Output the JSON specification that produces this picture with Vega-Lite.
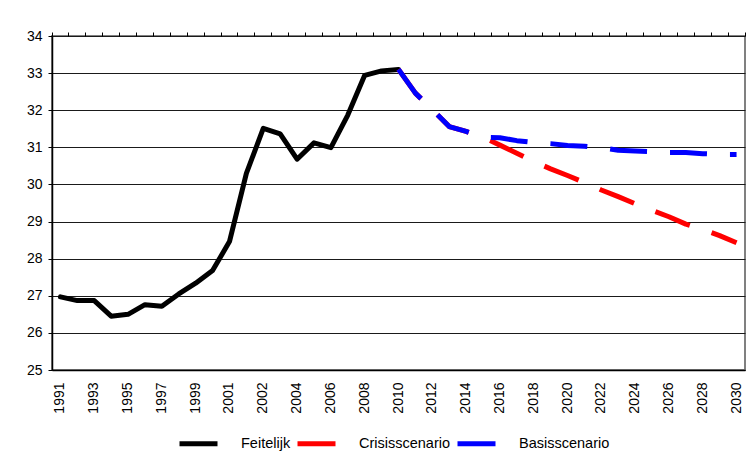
{
  "$schema": "https://vega.github.io/schema/vega-lite/v6.json",
  "width": 693,
  "height": 334,
  "autosize": {"type": "none"},
  "padding": {"left": 52, "top": 36, "right": 7, "bottom": 89},
  "background": "white",
  "config": {
    "font": "Liberation Sans",
    "view": {"stroke": "#808080", "strokeWidth": 2}
  },
  "data": {
    "values": [
      {"jaar": "1991", "serie": "Feitelijk", "waarde": 26.97},
      {"jaar": "1992", "serie": "Feitelijk", "waarde": 26.87},
      {"jaar": "1993", "serie": "Feitelijk", "waarde": 26.87},
      {"jaar": "1994", "serie": "Feitelijk", "waarde": 26.45},
      {"jaar": "1995", "serie": "Feitelijk", "waarde": 26.5},
      {"jaar": "1996", "serie": "Feitelijk", "waarde": 26.76},
      {"jaar": "1997", "serie": "Feitelijk", "waarde": 26.72},
      {"jaar": "1998", "serie": "Feitelijk", "waarde": 27.05},
      {"jaar": "1999", "serie": "Feitelijk", "waarde": 27.34},
      {"jaar": "2000", "serie": "Feitelijk", "waarde": 27.68},
      {"jaar": "2001", "serie": "Feitelijk", "waarde": 28.46},
      {"jaar": "2001*", "serie": "Feitelijk", "waarde": 30.3},
      {"jaar": "2002", "serie": "Feitelijk", "waarde": 31.51},
      {"jaar": "2003", "serie": "Feitelijk", "waarde": 31.36},
      {"jaar": "2004", "serie": "Feitelijk", "waarde": 30.68},
      {"jaar": "2005", "serie": "Feitelijk", "waarde": 31.12},
      {"jaar": "2006", "serie": "Feitelijk", "waarde": 30.99},
      {"jaar": "2007", "serie": "Feitelijk", "waarde": 31.87},
      {"jaar": "2008", "serie": "Feitelijk", "waarde": 32.94},
      {"jaar": "2009", "serie": "Feitelijk", "waarde": 33.06},
      {"jaar": "2010", "serie": "Feitelijk", "waarde": 33.1},
      {"jaar": "2010", "serie": "Crisisscenario", "waarde": 33.1},
      {"jaar": "2011", "serie": "Crisisscenario", "waarde": 32.46},
      {"jaar": "2012", "serie": "Crisisscenario", "waarde": 32.02},
      {"jaar": "2013", "serie": "Crisisscenario", "waarde": 31.56},
      {"jaar": "2014", "serie": "Crisisscenario", "waarde": 31.43},
      {"jaar": "2015", "serie": "Crisisscenario", "waarde": 31.27},
      {"jaar": "2016", "serie": "Crisisscenario", "waarde": 31.06},
      {"jaar": "2017", "serie": "Crisisscenario", "waarde": 30.84},
      {"jaar": "2018", "serie": "Crisisscenario", "waarde": 30.62},
      {"jaar": "2019", "serie": "Crisisscenario", "waarde": 30.42},
      {"jaar": "2020", "serie": "Crisisscenario", "waarde": 30.24},
      {"jaar": "2021", "serie": "Crisisscenario", "waarde": 30.05},
      {"jaar": "2022", "serie": "Crisisscenario", "waarde": 29.85},
      {"jaar": "2023", "serie": "Crisisscenario", "waarde": 29.67},
      {"jaar": "2024", "serie": "Crisisscenario", "waarde": 29.48},
      {"jaar": "2025", "serie": "Crisisscenario", "waarde": 29.3},
      {"jaar": "2026", "serie": "Crisisscenario", "waarde": 29.13},
      {"jaar": "2027", "serie": "Crisisscenario", "waarde": 28.93},
      {"jaar": "2028", "serie": "Crisisscenario", "waarde": 28.79},
      {"jaar": "2029", "serie": "Crisisscenario", "waarde": 28.62},
      {"jaar": "2030", "serie": "Crisisscenario", "waarde": 28.43},
      {"jaar": "2010", "serie": "Basisscenario", "waarde": 33.1},
      {"jaar": "2011", "serie": "Basisscenario", "waarde": 32.46},
      {"jaar": "2012", "serie": "Basisscenario", "waarde": 32.02},
      {"jaar": "2013", "serie": "Basisscenario", "waarde": 31.56},
      {"jaar": "2014", "serie": "Basisscenario", "waarde": 31.43},
      {"jaar": "2015", "serie": "Basisscenario", "waarde": 31.27},
      {"jaar": "2016", "serie": "Basisscenario", "waarde": 31.26},
      {"jaar": "2017", "serie": "Basisscenario", "waarde": 31.18},
      {"jaar": "2018", "serie": "Basisscenario", "waarde": 31.13},
      {"jaar": "2019", "serie": "Basisscenario", "waarde": 31.1},
      {"jaar": "2020", "serie": "Basisscenario", "waarde": 31.05},
      {"jaar": "2021", "serie": "Basisscenario", "waarde": 31.03},
      {"jaar": "2022", "serie": "Basisscenario", "waarde": 30.99},
      {"jaar": "2023", "serie": "Basisscenario", "waarde": 30.92},
      {"jaar": "2024", "serie": "Basisscenario", "waarde": 30.9},
      {"jaar": "2025", "serie": "Basisscenario", "waarde": 30.88},
      {"jaar": "2026", "serie": "Basisscenario", "waarde": 30.86},
      {"jaar": "2027", "serie": "Basisscenario", "waarde": 30.86},
      {"jaar": "2028", "serie": "Basisscenario", "waarde": 30.83},
      {"jaar": "2029", "serie": "Basisscenario", "waarde": 30.81},
      {"jaar": "2030", "serie": "Basisscenario", "waarde": 30.81}
    ]
  },
  "encoding": {
    "y": {
      "field": "waarde",
      "type": "quantitative",
      "scale": {"domain": [25, 34], "nice": false, "zero": false},
      "axis": {
        "title": null,
        "tickCount": 9,
        "grid": true,
        "gridColor": "#1a1a1a",
        "gridWidth": 1,
        "tickSize": 4,
        "tickColor": "#000000",
        "domainColor": "#000000",
        "domainWidth": 1.5,
        "labelFontSize": 14,
        "labelPadding": 6,
        "labelColor": "#000000"
      }
    },
    "color": {
      "field": "serie",
      "type": "nominal",
      "scale": {
        "domain": ["Feitelijk", "Crisisscenario", "Basisscenario"],
        "range": ["#000000", "#ff0000", "#0000ff"]
      },
      "legend": {
        "title": null,
        "orient": "none",
        "legendX": 125,
        "legendY": 386,
        "direction": "horizontal",
        "symbolType": "stroke",
        "symbolStrokeWidth": 5,
        "symbolSize": 1444,
        "symbolDash": [100, 0],
        "labelFontSize": 14.5,
        "labelColor": "#000000",
        "labelOffset": 21,
        "columnPadding": -4,
        "encode": {
          "symbols": {"update": {"strokeDash": {"value": [1, 0]}}}
        }
      }
    }
  },
  "layer": [
    {
      "transform": [{"filter": "datum.serie === 'Feitelijk'"}],
      "mark": {"type": "line", "strokeWidth": 5, "strokeCap": "round", "strokeJoin": "round"},
      "encoding": {
        "x": {
          "field": "jaar",
          "type": "ordinal",
          "bandPosition": 0.5,
          "scale": {"type": "band", "paddingInner": 0, "paddingOuter": 0},
          "axis": {
            "title": null,
            "values": ["1991", "1993", "1995", "1997", "1999", "2001", "2002", "2004", "2006", "2008", "2010", "2012", "2014", "2016", "2018", "2020", "2022", "2024", "2026", "2028", "2030"],
            "labelAngle": 270,
            "ticks": false,
            "grid": false,
            "domainColor": "#000000",
            "domainWidth": 1.5,
            "labelFontSize": 14,
            "labelColor": "#000000",
            "labelPadding": 12
          }
        }
      }
    },
    {
      "transform": [{"filter": "datum.serie === 'Crisisscenario'"}],
      "mark": {"type": "line", "strokeWidth": 5, "strokeDash": [37, 23], "strokeJoin": "round"},
      "encoding": {
        "x": {
          "field": "jaar",
          "type": "ordinal",
          "bandPosition": 0.5,
          "scale": {"type": "band", "paddingInner": 0, "paddingOuter": 0},
          "axis": {
            "title": null,
            "labels": false,
            "domain": false,
            "grid": false,
            "ticks": true,
            "tickSize": 4,
            "tickColor": "#000000",
            "bandPosition": 1,
            "tickExtra": true
          }
        }
      }
    },
    {
      "transform": [{"filter": "datum.serie === 'Basisscenario'"}],
      "mark": {"type": "line", "strokeWidth": 5, "strokeDash": [37, 23], "strokeJoin": "round"},
      "encoding": {
        "x": {
          "field": "jaar",
          "type": "ordinal",
          "bandPosition": 0.5,
          "scale": {"type": "band", "paddingInner": 0, "paddingOuter": 0},
          "axis": null
        }
      }
    }
  ],
  "resolve": {"axis": {"x": "independent"}}
}
